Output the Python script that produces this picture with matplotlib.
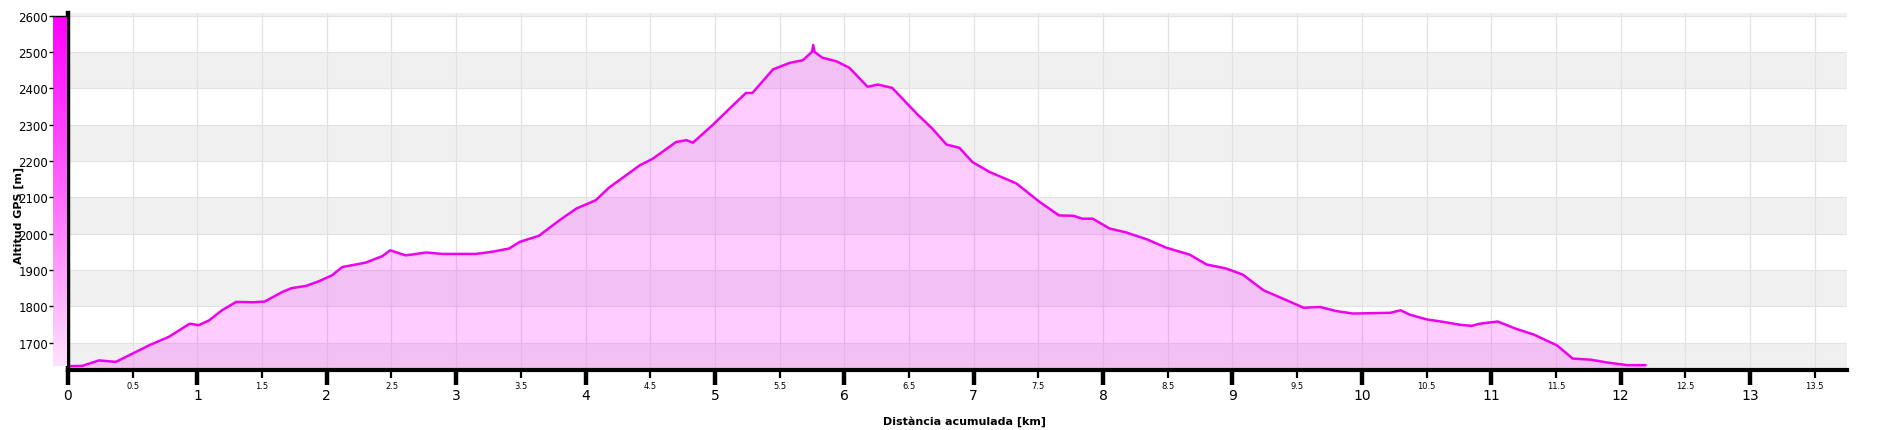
"""
Elevation profile (altitude vs accumulated distance), GPS track style chart.
"""

import matplotlib
matplotlib.use("Agg")  # headless
import matplotlib.pyplot as plt
import numpy as np
from matplotlib.colors import LinearSegmentedColormap
from matplotlib.ticker import FixedLocator, FixedFormatter

# --- data ------------------------------------------------------------------
dist_km = [
    0.00, 0.11, 0.24, 0.37, 0.50, 0.63, 0.78, 0.94, 1.01, 1.09, 1.19, 1.30,
    1.43, 1.52, 1.66, 1.73, 1.84, 1.94, 2.04, 2.12, 2.30, 2.43, 2.49, 2.61,
    2.77, 2.89, 3.15, 3.28, 3.41, 3.49, 3.64, 3.80, 3.93, 4.08, 4.18, 4.42,
    4.52, 4.70, 4.78, 4.83, 4.98, 5.14, 5.24, 5.29, 5.45, 5.58, 5.68, 5.75,
    5.76, 5.77, 5.83, 5.94, 6.04, 6.18, 6.26, 6.37, 6.56, 6.68, 6.79, 6.89,
    6.99, 7.12, 7.33, 7.51, 7.66, 7.77, 7.84, 7.92, 8.05, 8.18, 8.34, 8.49,
    8.67, 8.80, 8.95, 9.08, 9.24, 9.39, 9.55, 9.68, 9.80, 9.93, 10.22, 10.30,
    10.37, 10.50, 10.63, 10.76, 10.85, 10.91, 11.05, 11.20, 11.33, 11.51,
    11.63, 11.77, 11.90, 12.05, 12.19,
]
alt_m = [
    1635, 1636, 1651, 1647, 1670, 1693, 1716, 1752, 1748, 1761, 1789, 1812,
    1811, 1813, 1840, 1850, 1856, 1869, 1885, 1908, 1920, 1938, 1954, 1940,
    1948, 1944, 1944, 1950, 1959, 1977, 1994, 2037, 2069, 2092, 2126, 2188,
    2206, 2252, 2257, 2250, 2298, 2353, 2387, 2387, 2452, 2470, 2477, 2500,
    2519, 2500, 2484, 2474, 2456, 2404, 2410, 2401, 2330, 2289, 2245, 2236,
    2197, 2170, 2138, 2087, 2050, 2049, 2041, 2041, 2014, 2003, 1984, 1961,
    1942, 1915, 1904, 1887, 1844, 1821, 1796, 1798, 1787, 1780, 1782, 1789,
    1777, 1764, 1757, 1749, 1746, 1752, 1758, 1737, 1722, 1692,
    1656, 1653, 1645, 1638, 1638,
]

y_ticks = [1700, 1800, 1900, 2000, 2100, 2200, 2300, 2400, 2500, 2600]
x_major = list(range(0, 14))
x_minor = [k + 0.5 for k in range(0, 14)]
x_minor_labels = [f"{v:g}" for v in x_minor]

X_MAX = 13.75
Y_MIN, Y_MAX = 1626, 2607

LINE_COLOR = "#EE00EE"
BAND_COLOR = "#F0F0F0"
GRID_COLOR = "#E2E2E2"


def main() -> None:
    W, H = 1877, 431
    fig = plt.figure(figsize=(W / 100, H / 100), dpi=100)
    left, right, top, bottom = 68, 1847, 14, 370.5
    ax = fig.add_axes([left / W, 1 - bottom / H, (right - left) / W, (bottom - top) / H])

    ax.set_xlim(0, X_MAX)
    ax.set_ylim(Y_MIN, Y_MAX)

    # alternating horizontal bands
    for lo in range(1600, 2700, 200):
        ax.axhspan(lo, lo + 100, color=BAND_COLOR, lw=0, zorder=0)
    for yv in y_ticks:
        ax.axhline(yv, color=GRID_COLOR, lw=0.8, zorder=0.5)
    for xv in x_major + x_minor:
        ax.axvline(xv, color=GRID_COLOR, lw=0.9, zorder=0.5)

    # profile
    ax.fill_between(dist_km, alt_m, Y_MIN, color="#FF00FF", alpha=0.2, lw=0, zorder=1)
    ax.plot(dist_km, alt_m, color=LINE_COLOR, lw=1.8, zorder=2, solid_joinstyle="round")

    # spines
    for side in ("top", "right"):
        ax.spines[side].set_visible(False)
    ax.spines["left"].set_linewidth(3.2)
    ax.spines["bottom"].set_linewidth(3.0)
    ax.spines["left"].set_zorder(3)
    ax.spines["bottom"].set_zorder(3)

    # y axis: labels live on the colour strip below
    ax.set_yticks(y_ticks)
    ax.tick_params(axis="y", length=0, labelleft=False)

    # x axis: major integer ticks + minor half ticks, both labelled
    ax.xaxis.set_major_locator(FixedLocator(x_major))
    ax.set_xticklabels([str(v) for v in x_major], fontsize=10)
    ax.xaxis.set_minor_locator(FixedLocator(x_minor))
    ax.xaxis.set_minor_formatter(FixedFormatter(x_minor_labels))
    ax.tick_params(axis="x", which="major", length=11, width=3.2, pad=2, labelsize=10)
    ax.tick_params(axis="x", which="minor", length=6, width=1.6, pad=2, labelsize=6)

    # colour strip left of the y axis, carrying the y tick labels
    lo_alt = min(alt_m)
    cmap = LinearSegmentedColormap.from_list("pinkstrip", ["#FDE2FD", "#FF66FF", "#FF00FF"])
    cax = ax.inset_axes([-15 / (right - left), lo_alt, 14 / (right - left),
                         y_ticks[-1] - lo_alt], transform=ax.get_yaxis_transform())
    cax.imshow(np.linspace(0, 1, 256).reshape(-1, 1), cmap=cmap, aspect="auto",
               origin="lower", extent=[0, 1, lo_alt, y_ticks[-1]])
    cax.set_xlim(0, 1)
    cax.set_ylim(lo_alt, y_ticks[-1])
    cax.set_xticks([])
    cax.set_yticks(y_ticks)
    cax.set_yticklabels([str(v) for v in y_ticks], fontsize=8.5)
    cax.tick_params(axis="y", length=3, width=1, pad=0.5)
    for side in ("left", "right", "bottom"):
        cax.spines[side].set_visible(False)
    cax.spines["top"].set_linewidth(1)

    fig.text(964 / W, 1 - 421.5 / H, "Distància acumulada [km]", fontsize=8,
             fontweight="bold", ha="center", va="center")
    fig.text(19 / W, 1 - 215 / H, "Altitud GPS [m]", fontsize=8, fontweight="bold",
             rotation=90, ha="center", va="center")

    fig.savefig("out.png", dpi=100)


if __name__ == "__main__":
    main()
